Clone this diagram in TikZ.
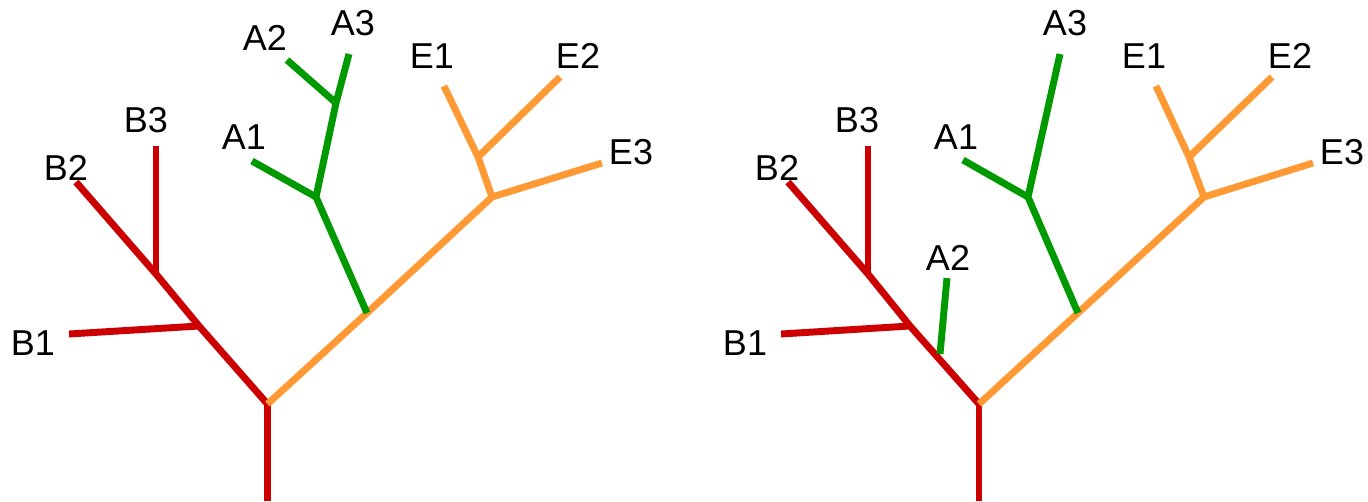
\documentclass[tikz,border=0pt]{standalone}
\usepackage{fontspec}
\setmainfont{Liberation Sans}
\definecolor{cladeB}{HTML}{CC0000}
\definecolor{cladeA}{HTML}{009900}
\definecolor{cladeE}{HTML}{FF9933}
\begin{document}
\begin{tikzpicture}[x=0.75pt,y=-0.75pt,
  branch/.style={line width=5.2pt,line cap=butt},
  red/.style={branch,draw=cladeB},
  grn/.style={branch,draw=cladeA},
  org/.style={branch,draw=cladeE},
  tip/.style={inner sep=0pt,font=\fontsize{27}{27}\selectfont}]
\useasboundingbox (0,0) rectangle (1368,501);

% ---------- left tree ----------
\begin{scope}
  \coordinate (Lbase) at (267.5,501);
  \coordinate (Lroot) at (267.5,404);
  \coordinate (LjB1) at (199,326);
  \coordinate (LjB3) at (156,274);
  \coordinate (LB2) at (76,182);
  \coordinate (LB1) at (69,334);
  \coordinate (LB3) at (156,146);
  \coordinate (LjA) at (367,313);
  \coordinate (LjA1) at (316,197);
  \coordinate (LjA2) at (336,103);
  \coordinate (LA1) at (252,161);
  \coordinate (LA2) at (287,60);
  \coordinate (LA3) at (349,54);
  \coordinate (LjE) at (492,197);
  \coordinate (LjE1) at (478,157);
  \coordinate (LE1) at (444,86);
  \coordinate (LE2) at (560,77);
  \coordinate (LE3) at (602,163);

  \draw[red] (Lbase) -- (Lroot);
  \draw[red] (Lroot) -- (LjB1) -- (LjB3) -- (LB2);
  \draw[red] (LjB1) -- (LB1);
  \draw[red] (LjB3) -- (LB3);
  \draw[org] (Lroot) -- (LjA) -- (LjE);
  \draw[org] (LjE) -- (LE3);
  \draw[org] (LjE) -- (LjE1) -- (LE1);
  \draw[org] (LjE1) -- (LE2);
  \draw[grn] (LjA) -- (LjA1) -- (LjA2) -- (LA3);
  \draw[grn] (LjA1) -- (LA1);
  \draw[grn] (LjA2) -- (LA2);

  \node[tip] (lA2) at (265,38) {A2};
  \node[tip] (lA3) at (353,23.5) {A3};
  \node[tip] (lA1) at (244,137) {A1};
  \node[tip] (lB3) at (146,120) {B3};
  \node[tip] (lB2) at (66,168) {B2};
  \node[tip] (lB1) at (33,343) {B1};
  \node[tip] (lE1) at (432,56) {E1};
  \node[tip] (lE2) at (578,56) {E2};
  \node[tip] (lE3) at (631,152) {E3};
\end{scope}

% ---------- right tree (A2 moved onto the B stem) ----------
\begin{scope}
  \coordinate (Rbase) at (979,501);
  \coordinate (Rroot) at (979,404);
  \coordinate (RjB1) at (910,326);
  \coordinate (RjA2) at (940,354);
  \coordinate (RjB3) at (868,274);
  \coordinate (RB2) at (788,182);
  \coordinate (RB1) at (781,334);
  \coordinate (RB3) at (868,146);
  \coordinate (RA2) at (947,278);
  \coordinate (RjA) at (1078,313);
  \coordinate (RjA1) at (1028,197);
  \coordinate (RA1) at (963,160);
  \coordinate (RA3) at (1060,54);
  \coordinate (RjE) at (1204,197);
  \coordinate (RjE1) at (1189,157);
  \coordinate (RE1) at (1156,86);
  \coordinate (RE2) at (1272,77);
  \coordinate (RE3) at (1313,163);

  \draw[red] (Rbase) -- (Rroot);
  \draw[red] (Rroot) -- (RjB1) -- (RjB3) -- (RB2);
  \draw[red] (RjB1) -- (RB1);
  \draw[red] (RjB3) -- (RB3);
  \draw[grn] (RjA2) -- (RA2);
  \draw[org] (Rroot) -- (RjA) -- (RjE);
  \draw[org] (RjE) -- (RE3);
  \draw[org] (RjE) -- (RjE1) -- (RE1);
  \draw[org] (RjE1) -- (RE2);
  \draw[grn] (RjA) -- (RjA1) -- (RA3);
  \draw[grn] (RjA1) -- (RA1);

  \node[tip] (rA2) at (948,258) {A2};
  \node[tip] (rA3) at (1065,23.5) {A3};
  \node[tip] (rA1) at (956,137) {A1};
  \node[tip] (rB3) at (857,120) {B3};
  \node[tip] (rB2) at (777,168) {B2};
  \node[tip] (rB1) at (745,343) {B1};
  \node[tip] (rE1) at (1144,56) {E1};
  \node[tip] (rE2) at (1290,56) {E2};
  \node[tip] (rE3) at (1342,152) {E3};
\end{scope}
\end{tikzpicture}
\end{document}
